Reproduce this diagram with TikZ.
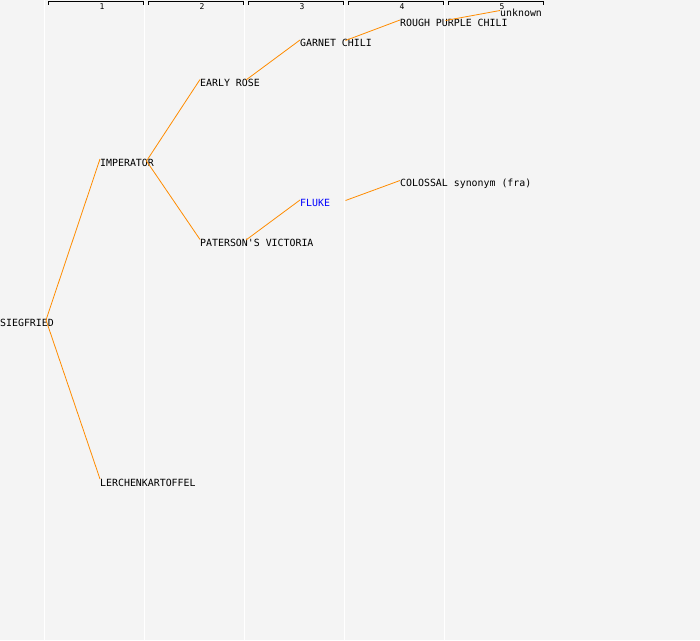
\documentclass[tikz,border=0pt]{standalone}
\usepackage{fontspec}
\setmonofont{DejaVu Sans Mono}
\definecolor{bgc}{HTML}{F4F4F4}
\definecolor{edgec}{HTML}{FF8C00}
\definecolor{linkc}{HTML}{0000FF}
\tikzset{
  lbl/.style={anchor=base west, inner sep=0pt, font=\ttfamily\fontsize{9.9}{10}\selectfont, text=black},
  hdr/.style={anchor=center, inner sep=0pt, font=\ttfamily\fontsize{8}{8}\selectfont},
  gen/.style={edgec, line width=0.8pt},
  colline/.style={white, line width=1pt},
  bracket/.style={black, line width=0.9pt}
}
\begin{document}
\begin{tikzpicture}[x=1pt, y=-1pt]
\fill[bgc] (0,0) rectangle (700,640);
\useasboundingbox (0,0) rectangle (700,640);
% column lines and headers
\foreach \i in {0,...,4} {
  \draw[colline] (44.5+100*\i,0) -- (44.5+100*\i,640);
  \draw[bracket] (48+100*\i,4.5) -- (48+100*\i,1.5) -- (143+100*\i,1.5) -- (143+100*\i,4.5);
}
\node[hdr] (h1) at (102,6.5) {1};
\node[hdr] (h2) at (202,6.5) {2};
\node[hdr] (h3) at (302,6.5) {3};
\node[hdr] (h4) at (402,6.5) {4};
\node[hdr] (h5) at (502,6.5) {5};
% nodes
\node[lbl] (siegfried) at (0,326) {SIEGFRIED};
\node[lbl] (imperator) at (100,166) {IMPERATOR};
\node[lbl] (lerchen) at (100,486) {LERCHENKARTOFFEL};
\node[lbl] (earlyrose) at (200,86) {EARLY ROSE};
\node[lbl] (paterson) at (200,246) {PATERSON'S VICTORIA};
\node[lbl] (garnet) at (300,46) {GARNET CHILI};
\node[lbl, text=linkc] (fluke) at (300,206) {FLUKE};
\node[lbl] (rough) at (400,26) {ROUGH PURPLE CHILI};
\node[lbl] (colossal) at (400,186) {COLOSSAL synonym (fra)};
\node[lbl] (unknown) at (500,16) {unknown};
% connector end points
\coordinate (siegfried-out) at (46,320);
\coordinate (imperator-in) at (100,159);
\coordinate (imperator-out) at (146.5,161);
\coordinate (lerchen-in) at (100,479);
\coordinate (earlyrose-in) at (200,79.5);
\coordinate (earlyrose-out) at (246,80);
\coordinate (paterson-in) at (200,239.5);
\coordinate (paterson-out) at (246,240);
\coordinate (garnet-in) at (300,40);
\coordinate (garnet-out) at (345.5,40.5);
\coordinate (fluke-in) at (300,200);
\coordinate (fluke-out) at (345.5,200.5);
\coordinate (rough-in) at (400,20);
\coordinate (rough-out) at (445.5,20.5);
\coordinate (colossal-in) at (400,180.5);
\coordinate (unknown-in) at (500,10.5);
% connectors
\draw[gen] (siegfried-out) -- (imperator-in);
\draw[gen] (siegfried-out) -- (lerchen-in);
\draw[gen] (imperator-out) -- (earlyrose-in);
\draw[gen] (imperator-out) -- (paterson-in);
\draw[gen] (earlyrose-out) -- (garnet-in);
\draw[gen] (paterson-out) -- (fluke-in);
\draw[gen] (garnet-out) -- (rough-in);
\draw[gen] (fluke-out) -- (colossal-in);
\draw[gen] (rough-out) -- (unknown-in);
\end{tikzpicture}
\end{document}
